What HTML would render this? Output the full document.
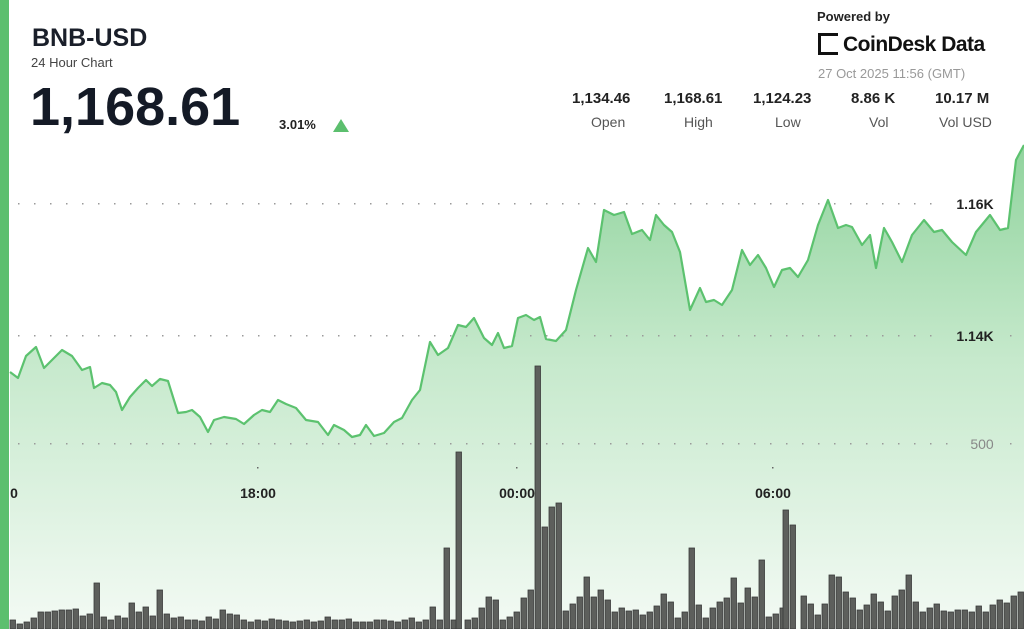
<!DOCTYPE html>
<html><head><meta charset="utf-8"><style>
body{margin:0;width:1024px;height:629px;overflow:hidden;background:#fff;font-family:"Liberation Sans",sans-serif;position:relative}
.abs{position:absolute}
</style></head><body>
<svg class="abs" style="left:0;top:0" width="1024" height="629" id="s">
<defs>
<linearGradient id="gr" gradientUnits="userSpaceOnUse" x1="0" y1="140" x2="0" y2="629">
<stop offset="0" stop-color="#8fd39c"/><stop offset="0.45" stop-color="#c6e9cc"/><stop offset="1" stop-color="#f3faf4"/></linearGradient>
</defs>
<path id="area" fill="url(#gr)"/>
<g id="grid" fill="#9a9a9a"></g>
<g fill="#5d5f5c" stroke="#3a3a3a" stroke-width="0.8">
<rect x="10" y="620" width="5.5" height="9"/><rect x="17" y="624" width="5.5" height="5"/><rect x="24" y="622" width="5.5" height="7"/><rect x="31" y="618" width="5.5" height="11"/><rect x="38" y="612" width="5.5" height="17"/><rect x="45" y="612" width="5.5" height="17"/><rect x="52" y="611" width="5.5" height="18"/><rect x="59" y="610" width="5.5" height="19"/><rect x="66" y="610" width="5.5" height="19"/><rect x="73" y="609" width="5.5" height="20"/><rect x="80" y="616" width="5.5" height="13"/><rect x="87" y="614" width="5.5" height="15"/><rect x="94" y="583" width="5.5" height="46"/><rect x="101" y="617" width="5.5" height="12"/><rect x="108" y="620" width="5.5" height="9"/><rect x="115" y="616" width="5.5" height="13"/><rect x="122" y="618" width="5.5" height="11"/><rect x="129" y="603" width="5.5" height="26"/><rect x="136" y="612" width="5.5" height="17"/><rect x="143" y="607" width="5.5" height="22"/><rect x="150" y="616" width="5.5" height="13"/><rect x="157" y="590" width="5.5" height="39"/><rect x="164" y="614" width="5.5" height="15"/><rect x="171" y="618" width="5.5" height="11"/><rect x="178" y="617" width="5.5" height="12"/><rect x="185" y="620" width="5.5" height="9"/><rect x="192" y="620" width="5.5" height="9"/><rect x="199" y="621" width="5.5" height="8"/><rect x="206" y="617" width="5.5" height="12"/><rect x="213" y="619" width="5.5" height="10"/><rect x="220" y="610" width="5.5" height="19"/><rect x="227" y="614" width="5.5" height="15"/><rect x="234" y="615" width="5.5" height="14"/><rect x="241" y="620" width="5.5" height="9"/><rect x="248" y="622" width="5.5" height="7"/><rect x="255" y="620" width="5.5" height="9"/><rect x="262" y="621" width="5.5" height="8"/><rect x="269" y="619" width="5.5" height="10"/><rect x="276" y="620" width="5.5" height="9"/><rect x="283" y="621" width="5.5" height="8"/><rect x="290" y="622" width="5.5" height="7"/><rect x="297" y="621" width="5.5" height="8"/><rect x="304" y="620" width="5.5" height="9"/><rect x="311" y="622" width="5.5" height="7"/><rect x="318" y="621" width="5.5" height="8"/><rect x="325" y="617" width="5.5" height="12"/><rect x="332" y="620" width="5.5" height="9"/><rect x="339" y="620" width="5.5" height="9"/><rect x="346" y="619" width="5.5" height="10"/><rect x="353" y="622" width="5.5" height="7"/><rect x="360" y="622" width="5.5" height="7"/><rect x="367" y="622" width="5.5" height="7"/><rect x="374" y="620" width="5.5" height="9"/><rect x="381" y="620" width="5.5" height="9"/><rect x="388" y="621" width="5.5" height="8"/><rect x="395" y="622" width="5.5" height="7"/><rect x="402" y="620" width="5.5" height="9"/><rect x="409" y="618" width="5.5" height="11"/><rect x="416" y="622" width="5.5" height="7"/><rect x="423" y="620" width="5.5" height="9"/><rect x="430" y="607" width="5.5" height="22"/><rect x="437" y="620" width="5.5" height="9"/><rect x="444" y="548" width="5.5" height="81"/><rect x="451" y="620" width="5.5" height="9"/><rect x="456" y="452" width="5.5" height="177"/><rect x="465" y="620" width="5.5" height="9"/><rect x="472" y="618" width="5.5" height="11"/><rect x="479" y="608" width="5.5" height="21"/><rect x="486" y="597" width="5.5" height="32"/><rect x="493" y="600" width="5.5" height="29"/><rect x="500" y="620" width="5.5" height="9"/><rect x="507" y="617" width="5.5" height="12"/><rect x="514" y="612" width="5.5" height="17"/><rect x="521" y="598" width="5.5" height="31"/><rect x="528" y="590" width="5.5" height="39"/><rect x="535" y="366" width="5.5" height="263"/><rect x="542" y="527" width="5.5" height="102"/><rect x="549" y="507" width="5.5" height="122"/><rect x="556" y="503" width="5.5" height="126"/><rect x="563" y="611" width="5.5" height="18"/><rect x="570" y="604" width="5.5" height="25"/><rect x="577" y="597" width="5.5" height="32"/><rect x="584" y="577" width="5.5" height="52"/><rect x="591" y="597" width="5.5" height="32"/><rect x="598" y="590" width="5.5" height="39"/><rect x="605" y="600" width="5.5" height="29"/><rect x="612" y="612" width="5.5" height="17"/><rect x="619" y="608" width="5.5" height="21"/><rect x="626" y="611" width="5.5" height="18"/><rect x="633" y="610" width="5.5" height="19"/><rect x="640" y="615" width="5.5" height="14"/><rect x="647" y="612" width="5.5" height="17"/><rect x="654" y="606" width="5.5" height="23"/><rect x="661" y="594" width="5.5" height="35"/><rect x="668" y="602" width="5.5" height="27"/><rect x="675" y="618" width="5.5" height="11"/><rect x="682" y="612" width="5.5" height="17"/><rect x="689" y="548" width="5.5" height="81"/><rect x="696" y="605" width="5.5" height="24"/><rect x="703" y="618" width="5.5" height="11"/><rect x="710" y="608" width="5.5" height="21"/><rect x="717" y="602" width="5.5" height="27"/><rect x="724" y="598" width="5.5" height="31"/><rect x="731" y="578" width="5.5" height="51"/><rect x="738" y="603" width="5.5" height="26"/><rect x="745" y="588" width="5.5" height="41"/><rect x="752" y="597" width="5.5" height="32"/><rect x="759" y="560" width="5.5" height="69"/><rect x="766" y="617" width="5.5" height="12"/><rect x="773" y="614" width="5.5" height="15"/><rect x="780" y="608" width="5.5" height="21"/><rect x="783" y="510" width="5.5" height="119"/><rect x="790" y="525" width="5.5" height="104"/><rect x="801" y="596" width="5.5" height="33"/><rect x="808" y="604" width="5.5" height="25"/><rect x="815" y="615" width="5.5" height="14"/><rect x="822" y="604" width="5.5" height="25"/><rect x="829" y="575" width="5.5" height="54"/><rect x="836" y="577" width="5.5" height="52"/><rect x="843" y="592" width="5.5" height="37"/><rect x="850" y="598" width="5.5" height="31"/><rect x="857" y="610" width="5.5" height="19"/><rect x="864" y="605" width="5.5" height="24"/><rect x="871" y="594" width="5.5" height="35"/><rect x="878" y="602" width="5.5" height="27"/><rect x="885" y="611" width="5.5" height="18"/><rect x="892" y="596" width="5.5" height="33"/><rect x="899" y="590" width="5.5" height="39"/><rect x="906" y="575" width="5.5" height="54"/><rect x="913" y="602" width="5.5" height="27"/><rect x="920" y="612" width="5.5" height="17"/><rect x="927" y="608" width="5.5" height="21"/><rect x="934" y="604" width="5.5" height="25"/><rect x="941" y="611" width="5.5" height="18"/><rect x="948" y="612" width="5.5" height="17"/><rect x="955" y="610" width="5.5" height="19"/><rect x="962" y="610" width="5.5" height="19"/><rect x="969" y="612" width="5.5" height="17"/><rect x="976" y="606" width="5.5" height="23"/><rect x="983" y="612" width="5.5" height="17"/><rect x="990" y="605" width="5.5" height="24"/><rect x="997" y="600" width="5.5" height="29"/><rect x="1004" y="603" width="5.5" height="26"/><rect x="1011" y="596" width="5.5" height="33"/><rect x="1018" y="592" width="5.5" height="37"/>
</g>
<polyline id="line" fill="none" stroke="#5cc26f" stroke-width="2.2" stroke-linejoin="round"/>
<rect x="0" y="0" width="9" height="629" fill="#5cbf6e"/>
<g font-weight="bold" font-size="14" fill="#222" text-anchor="middle">
<text x="975" y="209">1.16K</text>
<text x="975" y="341">1.14K</text>
<text x="982" y="449" fill="#888" font-weight="normal">500</text>
<text x="14" y="498">0</text>
<text x="258" y="498">18:00</text>
<text x="517" y="498">00:00</text>
<text x="773" y="498">06:00</text>
</g>
<g fill="#666"><rect x="257" y="467" width="1.5" height="1.5"/><rect x="516" y="467" width="1.5" height="1.5"/><rect x="772" y="467" width="1.5" height="1.5"/></g>
</svg>
<div class="abs" style="left:32px;top:24px;font-size:25px;font-weight:bold;color:#1a1f2a">BNB-USD</div>
<div class="abs" style="left:31px;top:55px;font-size:13px;color:#444">24 Hour Chart</div>
<div class="abs" style="left:30px;top:76px;font-size:54px;font-weight:bold;color:#141a26">1,168.61</div>
<div class="abs" style="left:279px;top:117px;font-size:13px;font-weight:bold;color:#222">3.01%</div>
<div class="abs" style="left:333px;top:119px;width:0;height:0;border-left:8px solid transparent;border-right:8px solid transparent;border-bottom:13px solid #5cbf6e"></div>
<div class="abs" style="left:817px;top:9px;font-size:13px;font-weight:bold;color:#222">Powered by</div>
<div class="abs" style="left:818px;top:33px;width:20px;height:22px;border:3px solid #111;border-right:none;box-sizing:border-box"></div>
<div class="abs" style="left:843px;top:33px;font-size:21px;font-weight:bold;color:#111;letter-spacing:-0.5px">CoinDesk Data</div>
<div class="abs" style="left:818px;top:66px;font-size:13px;color:#999">27 Oct 2025 11:56 (GMT)</div>
<div class="abs" style="left:560px;top:90px;width:464px;font-size:15px;font-weight:bold;color:#222">
<span class="abs" style="left:12px">1,134.46</span><span class="abs" style="left:104px">1,168.61</span><span class="abs" style="left:193px">1,124.23</span><span class="abs" style="left:291px">8.86 K</span><span class="abs" style="left:375px">10.17 M</span></div>
<div class="abs" style="left:560px;top:114px;width:464px;font-size:14px;color:#555">
<span class="abs" style="left:31px">Open</span><span class="abs" style="left:124px">High</span><span class="abs" style="left:215px">Low</span><span class="abs" style="left:309px">Vol</span><span class="abs" style="left:379px">Vol USD</span></div>
<script>
var P=[10,372,18,378,26,356,36,347,44,368,52,360,62,350,72,356,82,370,90,367,94,388,102,383,110,385,116,392,122,410,130,397,138,388,146,380,152,386,160,379,168,381,178,413,186,412,192,410,200,417,208,432,214,420,224,417,236,419,244,424,254,415,262,410,270,412,278,400,286,404,296,408,306,420,318,422,328,435,334,425,344,430,352,437,360,435,366,425,374,436,384,433,394,422,402,418,412,400,420,390,430,342,438,355,448,348,458,325,466,327,474,318,484,338,492,345,498,333,504,348,512,346,518,318,526,315,534,320,540,317,546,339,556,341,566,330,576,290,588,248,596,262,604,210,614,215,624,212,632,234,642,230,650,240,656,215,664,225,672,232,680,252,690,310,700,288,706,302,714,300,722,305,732,290,742,250,750,265,758,255,766,268,774,287,782,270,790,268,798,277,808,260,818,225,828,200,838,228,846,225,852,227,862,245,870,235,876,268,884,228,892,242,902,262,912,235,924,220,934,232,942,230,952,242,966,255,976,232,990,215,1000,230,1008,228,1016,160,1024,145];
var pts=[];for(var i=0;i<P.length;i+=2)pts.push(P[i]+','+P[i+1]);
document.getElementById('line').setAttribute('points',pts.join(' '));
document.getElementById('area').setAttribute('d','M'+pts.join(' L')+' L1024,629 L10,629 Z');
var gs='';[203,335,443].forEach(function(y){for(var x=18;x<1024;x+=16){if(y!=443&&x>945&&x<1002)continue;if(y==443&&x>960&&x<1002)continue;gs+='<rect x="'+x+'" y="'+y+'" width="1.5" height="1.5"/>';}});
document.getElementById('grid').innerHTML=gs;
</script>
</body></html>
